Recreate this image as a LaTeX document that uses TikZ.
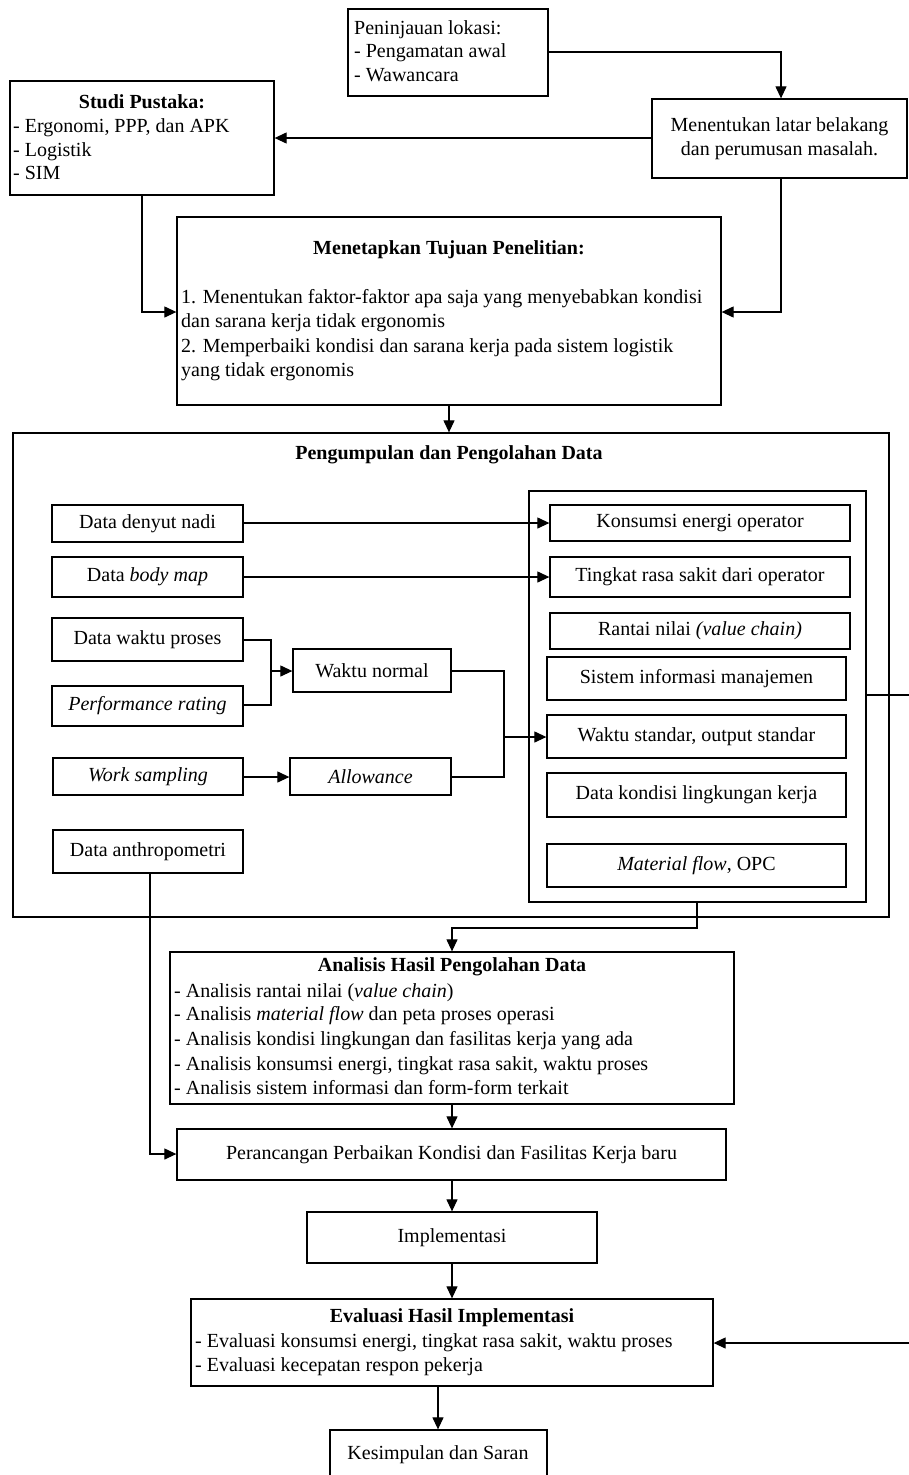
\documentclass[tikz,border=0pt]{standalone}
\usepackage{fontspec}
\setmainfont{Liberation Serif}
\usetikzlibrary{arrows.meta}
\tikzset{
  box/.style={draw, line width=1.3pt, rectangle, inner sep=0pt, align=center, font=\fontsize{20}{24.5}\selectfont},
  txt/.style={inner sep=0pt, anchor=west, text height=13pt, text depth=4pt, font=\fontsize{20}{24.5}\selectfont},
  ctxt/.style={txt, anchor=center},
  ln/.style={line width=1.2pt},
  arr/.style={ln, -{Triangle[length=12pt,width=11pt]}}
}
\newcommand\mybox[7][]{%
  \pgfmathsetmacro\cx{(#3+#5)/2}\pgfmathsetmacro\cy{(#4+#6)/2}%
  \pgfmathsetmacro\ww{#5-#3}\pgfmathsetmacro\hh{#6-#4}%
  \node[box,minimum width=\ww pt,minimum height=\hh pt,#1] (#2) at (\cx,\cy) {#7};}
\begin{document}
\begin{tikzpicture}[x=1pt,y=-1pt]
\useasboundingbox[fill=white] (0,0) rectangle (909,1475);
% top
\mybox{pen}{348}{9}{548}{96}{}
\node[txt] (pen1) at (354,30) {Peninjauan lokasi:};
\node[txt] (pen2) at (354,53) {- Pengamatan awal};
\node[txt] (pen3) at (354,77) {- Wawancara};
\mybox{ment}{652}{99}{907}{178}{Menentukan latar belakang\\dan perumusan masalah.}
\mybox{stud}{10}{81}{274}{195}{}
\node[ctxt] (stud0) at (142,104) {\bfseries Studi Pustaka:};
\node[txt] (stud1) at (13,128) {- Ergonomi, PPP, dan APK};
\node[txt] (stud2) at (13,152) {- Logistik};
\node[txt] (stud3) at (13,175) {- SIM};
\mybox{tuj}{177}{217}{721}{405}{}
\node[ctxt] (tuj0) at (449,250) {\bfseries Menetapkan Tujuan Penelitian:};
\node[txt] (tuj1) at (181,299) {1. Menentukan faktor-faktor apa saja yang menyebabkan kondisi};
\node[txt] (tuj2) at (181,323) {dan sarana kerja tidak ergonomis};
\node[txt] (tuj3) at (181,348) {2. Memperbaiki kondisi dan sarana kerja pada sistem logistik};
\node[txt] (tuj4) at (181,372) {yang tidak ergonomis};
% big box
\mybox{big}{13}{433}{889}{917}{}
\node[ctxt] (bigt) at (449,455) {\bfseries Pengumpulan dan Pengolahan Data};
\mybox{inner}{529}{491}{866}{902}{}
\mybox{dnadi}{52}{505}{243}{542}{Data denyut nadi}
\mybox{bmap}{52}{557}{243}{597}{Data \textit{body map}}
\mybox{dwp}{52}{618}{243}{661}{Data waktu proses}
\mybox{prat}{52}{686}{243}{726}{\textit{Performance rating}}
\mybox{wsam}{53}{758}{243}{795}{\textit{Work sampling}}
\mybox{anth}{53}{830}{243}{873}{Data anthropometri}
\mybox{wnor}{293}{649}{451}{692}{Waktu normal}
\mybox{allw}{290}{758}{451}{795}{\textit{Allowance}}
\mybox{kons}{550}{505}{850}{541}{Konsumsi energi operator}
\mybox{ting}{550}{557}{850}{597}{Tingkat rasa sakit dari operator}
\mybox{rant}{550}{613}{850}{649}{Rantai nilai \textit{(value chain)}}
\mybox{sim}{547}{657}{846}{700}{Sistem informasi manajemen}
\mybox{wstd}{547}{715}{846}{758}{Waktu standar, output standar}
\mybox{kond}{547}{773}{846}{817}{Data kondisi lingkungan kerja}
\mybox{mflo}{547}{844}{846}{887}{\textit{Material flow}, OPC}
% lower
\mybox{anl}{170}{952}{734}{1104}{}
\node[ctxt] (anl0) at (452,967) {\bfseries Analisis Hasil Pengolahan Data};
\node[txt] (anl1) at (174,993) {- Analisis rantai nilai (\textit{value chain})};
\node[txt] (anl2) at (174,1016) {- Analisis \textit{material flow} dan peta proses operasi};
\node[txt] (anl3) at (174,1041) {- Analisis kondisi lingkungan dan fasilitas kerja yang ada};
\node[txt] (anl4) at (174,1066) {- Analisis konsumsi energi, tingkat rasa sakit, waktu proses};
\node[txt] (anl5) at (174,1090) {- Analisis sistem informasi dan form-form terkait};
\mybox{per}{177}{1129}{726}{1180}{Perancangan Perbaikan Kondisi dan Fasilitas Kerja baru}
\mybox{imp}{307}{1212}{597}{1263}{Implementasi}
\mybox{eva}{191}{1299}{713}{1386}{}
\node[ctxt] (eva0) at (452,1318) {\bfseries Evaluasi Hasil Implementasi};
\node[txt] (eva1) at (195,1343) {- Evaluasi konsumsi energi, tingkat rasa sakit, waktu proses};
\node[txt] (eva2) at (195,1367) {- Evaluasi kecepatan respon pekerja};
\mybox{kes}{330}{1430}{547}{1490}{}
\node[ctxt] (kes0) at (438,1455) {Kesimpulan dan Saran};
% connectors
\draw[arr] (pen.east |- 0,52) -| (ment.north -| 781,0);
\draw[arr] (ment.west |- 0,138) -- (stud.east |- 0,138);
\draw[arr] (stud.south -| 142,0) |- (tuj.west |- 0,312);
\draw[arr] (ment.south -| 781,0) |- (tuj.east |- 0,312);
\draw[arr] (tuj.south -| 449,0) -- (big.north -| 449,0);
\draw[arr] (dnadi.east |- 0,523) -- (kons.west |- 0,523);
\draw[arr] (bmap.east |- 0,577) -- (ting.west |- 0,577);
\coordinate (j1) at (271,671);
\draw[ln] (dwp.east |- 0,640) -| (j1);
\draw[ln] (prat.east |- 0,705) -| (j1);
\draw[arr] (j1) -- (wnor.west |- j1);
\draw[arr] (wsam.east |- 0,777) -- (allw.west |- 0,777);
\coordinate (j2) at (504,737);
\draw[ln] (wnor.east |- 0,671) -| (j2);
\draw[ln] (allw.east |- 0,777) -| (j2);
\draw[arr] (j2) -- (wstd.west |- j2);
\coordinate (j3) at (697,928);
\draw[arr] (inner.south -| j3) -- (j3) -| (anl.north -| 452,0);
\draw[arr] (anl.south -| 452,0) -- (per.north -| 452,0);
\draw[arr] (anth.south -| 150,0) |- (per.west |- 0,1154);
\draw[arr] (per.south -| 452,0) -- (imp.north -| 452,0);
\draw[arr] (imp.south -| 452,0) -- (eva.north -| 452,0);
\draw[arr] (eva.south -| 438,0) -- (kes.north -| 438,0);
\coordinate (r1) at (912,695);
\coordinate (r2) at (912,1343);
\draw[arr] (inner.east |- r1) -- (r1) -- (r2) -- (eva.east |- r2);
\end{tikzpicture}
\end{document}
